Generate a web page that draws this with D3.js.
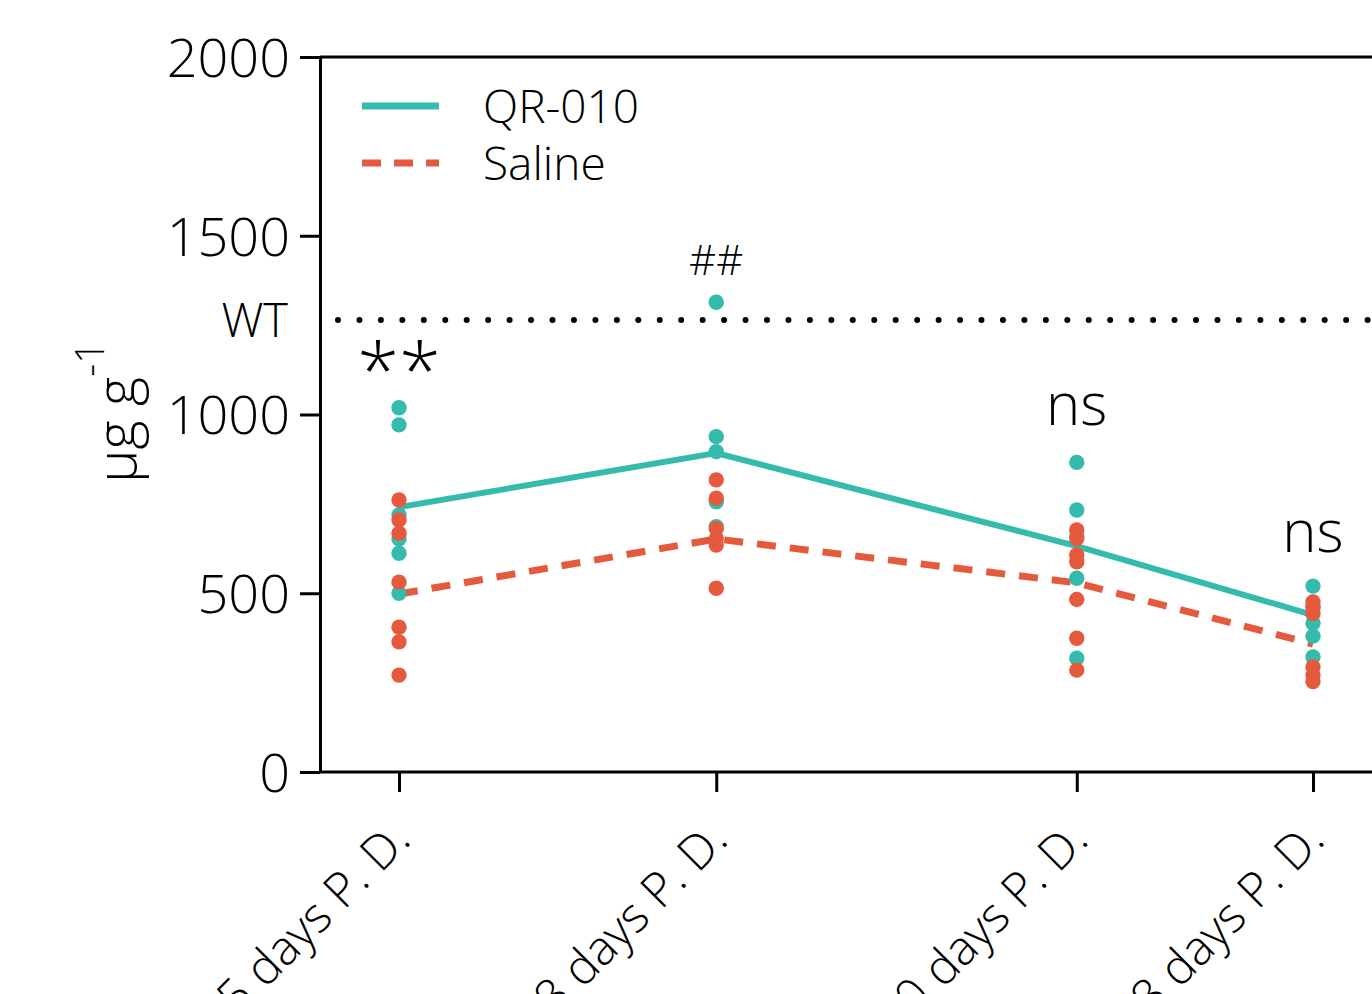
<!DOCTYPE html>
<html>
<head>
<meta charset="utf-8">
<script src="https://cdn.jsdelivr.net/npm/d3@7"></script>
<style>
  html, body { margin: 0; padding: 0; background: #fff; overflow: hidden; }
  text { font-family: "Open Sans", sans-serif; font-weight: 300; fill: #000; }
  .axis text { font-size: 54px; }
  .axis line, .axis path { stroke: #000; stroke-width: 3; }
</style>
</head>
<body>
<svg id="chart"></svg>
<script>
var WIDTH = 1372, HEIGHT = 994;
var TEAL = "#35bbad", ORANGE = "#e5593c";

// time points (days post dose) and their tick labels
var days = [15, 48, 180, 428];
var dayLabels = ["15 days P. D.", "48 days P. D.", "180 days P. D.", "428 days P. D."];
var yTicks = [0, 500, 1000, 1500, 2000];
var wtLevel = 1264;

// group means (lines)
var qrMean = [741, 892, 632, 439];
var salineMean = [498, 652, 529, 358];

// individual animals
var qrPoints = [
  [1019, 971, 719, 652, 612, 500],
  [1314, 938, 896, 756, 686],
  [866, 733, 658, 542, 318],
  [520, 460, 416, 380, 322]
];
var salinePoints = [
  [761, 705, 668, 531, 405, 364, 271],
  [817, 766, 681, 653, 635, 514],
  [677, 653, 607, 588, 483, 374, 285],
  [476, 462, 443, 294, 271, 253]
];

var annotations = [
  {i: 0, text: "**", v: 1045, size: 76},
  {i: 1, text: "##", v: 1390, size: 42},
  {i: 2, text: "ns", v: 970, size: 58},
  {i: 3, text: "ns", v: 615, size: 58}
];

var margin = {top: 57, left: 320, bottom: 222};
var svg = d3.select("#chart").attr("width", WIDTH).attr("height", HEIGHT);

var x = d3.scaleLog().domain([15, 428]).range([399, 1313]);
var y = d3.scaleLinear().domain([0, 2000]).range([HEIGHT - margin.bottom, margin.top]);

// frame: top line and bottom axis line run off the right edge
svg.append("line")
  .attr("x1", margin.left).attr("x2", WIDTH + 10)
  .attr("y1", y(2000)).attr("y2", y(2000))
  .attr("stroke", "#000").attr("stroke-width", 3);
svg.append("line")
  .attr("x1", margin.left).attr("x2", WIDTH + 10)
  .attr("y1", y(0)).attr("y2", y(0))
  .attr("stroke", "#000").attr("stroke-width", 3);

var yAxis = svg.append("g")
  .attr("class", "axis")
  .attr("transform", "translate(" + margin.left + ",0)")
  .call(d3.axisLeft(y).tickValues(yTicks).tickSize(20).tickSizeOuter(0).tickPadding(10).tickFormat(d3.format("d")));
yAxis.selectAll("text").attr("dy", "0.36em");

var xAxis = svg.append("g")
  .attr("class", "axis")
  .attr("transform", "translate(0," + y(0) + ")")
  .call(d3.axisBottom(x).tickValues(days).tickSize(20).tickFormat(function(d, i) { return dayLabels[i]; }));
xAxis.select(".domain").remove();
xAxis.selectAll("text")
  .style("font-size", "48px")
  .attr("text-anchor", "end")
  .attr("y", 0).attr("dy", 0)
  .attr("transform", "translate(13,70) rotate(-45)");

// WT reference level
svg.append("line")
  .attr("x1", margin.left + 18).attr("x2", WIDTH + 10)
  .attr("y1", y(wtLevel)).attr("y2", y(wtLevel))
  .attr("stroke", "#000").attr("stroke-width", 6)
  .attr("stroke-linecap", "round")
  .attr("stroke-dasharray", "0 21.45");
svg.append("text")
  .attr("x", 288).attr("y", y(wtLevel)).attr("dy", "0.36em")
  .attr("text-anchor", "end").style("font-size", "47px")
  .text("WT");

// y label
var ylab = svg.append("text")
  .attr("transform", "translate(136,412) rotate(-90)")
  .attr("text-anchor", "middle")
  .style("font-size", "56px");
ylab.append("tspan").text("μg g");
ylab.append("tspan").attr("dy", -32).style("font-size", "40px").text("-1");

// mean lines
var line = d3.line().x(function(d, i) { return x(days[i]); }).y(function(d) { return y(d); });
svg.append("path").datum(qrMean)
  .attr("d", line).attr("fill", "none")
  .attr("stroke", TEAL).attr("stroke-width", 6);
svg.append("path").datum(salineMean)
  .attr("d", line).attr("fill", "none")
  .attr("stroke", ORANGE).attr("stroke-width", 7)
  .attr("stroke-dasharray", "19 14");

// individual dots
function dots(groups, color) {
  var flat = [];
  groups.forEach(function(g, i) { g.forEach(function(v) { flat.push({i: i, v: v}); }); });
  svg.append("g").selectAll("circle").data(flat).enter().append("circle")
    .attr("cx", function(d) { return x(days[d.i]); })
    .attr("cy", function(d) { return y(d.v); })
    .attr("r", 7.7)
    .attr("fill", color);
}
dots(qrPoints, TEAL);
dots(salinePoints, ORANGE);

// significance marks
svg.selectAll(".annot").data(annotations).enter().append("text")
  .attr("class", "annot")
  .attr("x", function(d) { return x(days[d.i]); })
  .attr("y", function(d) { return y(d.v); })
  .attr("text-anchor", "middle")
  .style("font-size", function(d) { return d.size + "px"; })
  .text(function(d) { return d.text; });

// legend
var legend = [
  {name: "QR-010", color: TEAL, dash: null, y: 106},
  {name: "Saline", color: ORANGE, dash: "19 13", y: 163}
];
var lg = svg.selectAll(".legend").data(legend).enter().append("g").attr("class", "legend");
lg.append("line")
  .attr("x1", 362).attr("x2", 439)
  .attr("y1", function(d) { return d.y; }).attr("y2", function(d) { return d.y; })
  .attr("stroke", function(d) { return d.color; })
  .attr("stroke-width", 7)
  .attr("stroke-dasharray", function(d) { return d.dash; });
lg.append("text")
  .attr("x", 483).attr("y", function(d) { return d.y; }).attr("dy", "0.36em")
  .style("font-size", "46px")
  .text(function(d) { return d.name; });
</script>
</body>
</html>
